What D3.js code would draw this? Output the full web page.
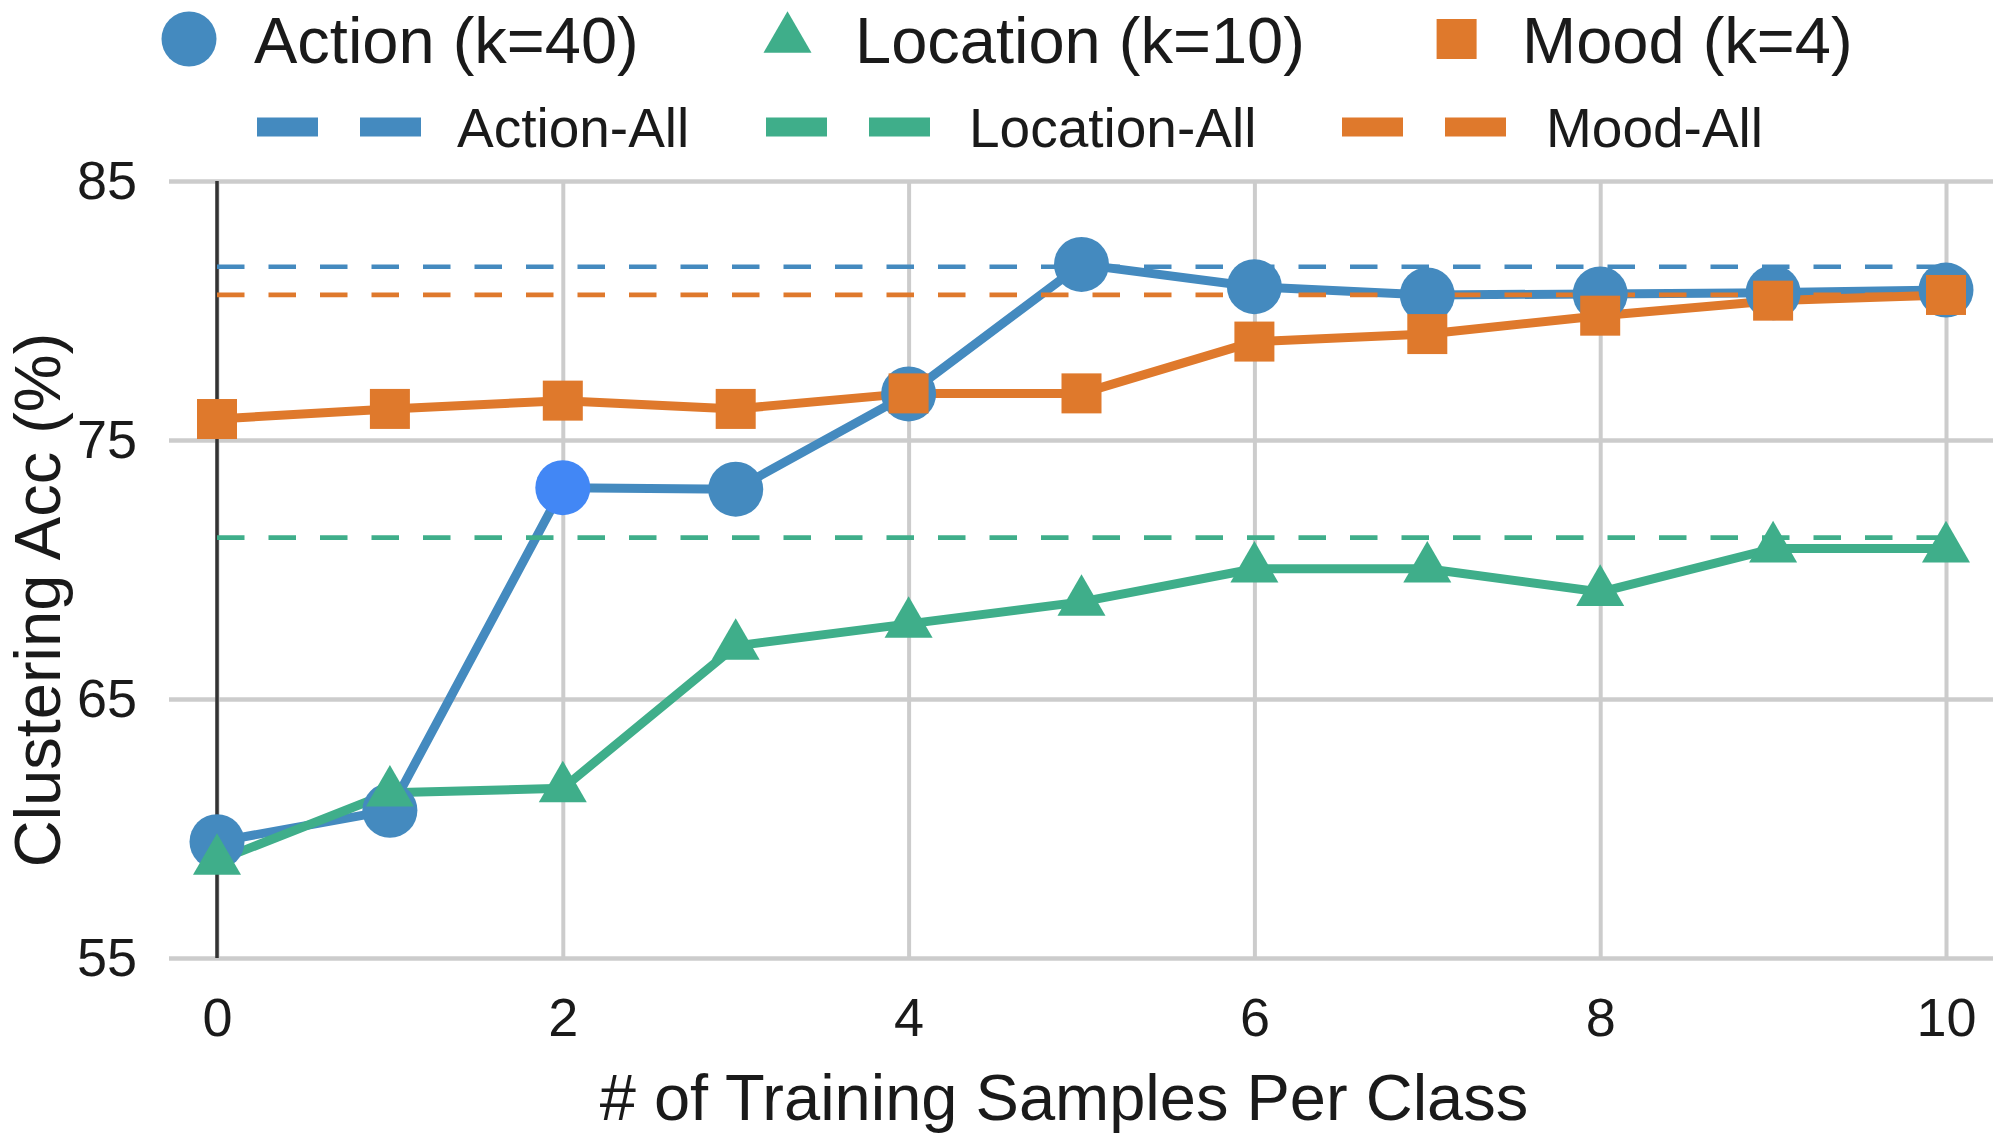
<!DOCTYPE html>
<html>
<head>
<meta charset="utf-8">
<script src="https://cdn.jsdelivr.net/npm/d3@7"></script>
<style>
  body { margin: 0; background: #fff; }
  text { font-family: "Liberation Sans", Arial, sans-serif; fill: #1a1a1a; }
</style>
</head>
<body>
<div id="chart"></div>
<script>
// data
var samples = [0, 1, 2, 3, 4, 5, 6, 7, 8, 9, 10];
var actionAcc   = [59.49, 60.7, 73.16, 73.1, 76.78, 81.78, 80.92, 80.6, 80.64, 80.69, 80.79];
var locationAcc = [58.75, 61.38, 61.55, 67.05, 67.9, 68.75, 70.03, 70.03, 69.13, 70.81, 70.81];
var moodAcc     = [75.81, 76.2, 76.52, 76.2, 76.8, 76.8, 78.8, 79.09, 79.8, 80.38, 80.6];
var allNames = ["Action-All", "Location-All", "Mood-All"];
var allAcc   = [81.69, 71.23, 80.6];
var xTicks = [0, 2, 4, 6, 8, 10];
var yTicks = [55, 65, 75, 85];
var highlightIdx = 2; // the brighter Action point

var blue = "#448abf", green = "#3fae8a", orange = "#df792c", highlight = "#4287f5";

// set the dimensions of the figure
var W = 2000, H = 1136;
var plot = {left: 169, right: 1993, top: 181, bottom: 958};

var svg = d3.select("#chart")
    .append("svg")
    .attr("width", W)
    .attr("height", H);

var x = d3.scaleLinear().domain([0, 10]).range([217, 1946]);
var y = d3.scaleLinear().domain([55, 85]).range([plot.bottom, plot.top]);

// horizontal grid + y tick labels
var yAxis = svg.append("g")
    .attr("transform", `translate(${plot.left},0)`)
    .call(d3.axisLeft(y).tickValues(yTicks).tickSize(-(plot.right - plot.left)).tickPadding(32));
yAxis.select(".domain").remove();
yAxis.selectAll("line").attr("stroke", "#cccccc").attr("stroke-width", 4.5);
yAxis.selectAll("text").style("font-size", "54px").attr("fill", "#1a1a1a");

// vertical grid + x tick labels
var xAxis = svg.append("g")
    .attr("transform", `translate(0,${plot.bottom})`)
    .call(d3.axisBottom(x).tickValues(xTicks).tickSize(-(plot.bottom - plot.top)).tickPadding(40));
xAxis.select(".domain").remove();
xAxis.selectAll("line").attr("stroke", "#cccccc").attr("stroke-width", 4);
xAxis.selectAll("text").style("font-size", "54px").attr("fill", "#1a1a1a");

// dark line at x = 0
svg.append("line")
    .attr("x1", x(0)).attr("x2", x(0))
    .attr("y1", plot.top).attr("y2", plot.bottom)
    .attr("stroke", "#333").attr("stroke-width", 3.5);

// axis titles
svg.append("text")
    .attr("x", 1064).attr("y", 1120)
    .attr("text-anchor", "middle")
    .style("font-size", "65px")
    .text("# of Training Samples Per Class");
svg.append("text")
    .attr("transform", "translate(60,600) rotate(-90)")
    .attr("text-anchor", "middle")
    .style("font-size", "65px")
    .text("Clustering Acc (%)");

var series = [
  {name: "Action (k=40)", values: actionAcc, color: blue, shape: "circle"},
  {name: "Location (k=10)", values: locationAcc, color: green, shape: "triangle"},
  {name: "Mood (k=4)", values: moodAcc, color: orange, shape: "square"}
];
var allColors = [blue, green, orange];

var line = d3.line()
    .x((d, i) => x(samples[i]))
    .y(d => y(d));

// series lines
series.forEach(function(s) {
  svg.append("path")
      .datum(s.values)
      .attr("d", line)
      .attr("fill", "none")
      .attr("stroke", s.color)
      .attr("stroke-width", 9)
      .attr("stroke-linejoin", "round");
});

// "-All" reference lines
svg.append("g")
    .selectAll("line")
    .data(allAcc)
    .join("line")
    .attr("x1", x(0)).attr("x2", x(10))
    .attr("y1", d => y(d)).attr("y2", d => y(d))
    .attr("stroke", (d, i) => allColors[i])
    .attr("stroke-width", 4.7)
    .attr("stroke-dasharray", "27.5,24");

// markers
function marker(sel, shape) {
  if (shape === "circle") return sel.append("circle").attr("r", 27.5);
  if (shape === "square") return sel.append("rect").attr("x", -20).attr("y", -20).attr("width", 40).attr("height", 40);
  return sel.append("path").attr("d", d3.symbol(d3.symbolTriangle, 998)());
}
series.forEach(function(s) {
  var g = svg.append("g").selectAll("g")
      .data(s.values)
      .join("g")
      .attr("transform", (d, i) => `translate(${x(samples[i])},${y(d)})`);
  marker(g, s.shape)
      .attr("fill", (d, i) => (s.shape === "circle" && i === highlightIdx) ? highlight : s.color);
});

// legend, first row: markers
var legend1 = [189, 787.5, 1456.6];
var legend1Text = [254, 855, 1522];
series.forEach(function(s, i) {
  var g = svg.append("g").attr("transform", `translate(${legend1[i]},39)`);
  marker(g, s.shape).attr("fill", s.color);
  svg.append("text").attr("x", legend1Text[i]).attr("y", 62.5)
      .style("font-size", "65px").text(s.name);
});

// legend, second row: dashes
var legend2 = [257, 766, 1342];
var legend2Text = [457, 969, 1546];
allNames.forEach(function(n, i) {
  [0, 103].forEach(function(off) {
    svg.append("rect")
        .attr("x", legend2[i] + off).attr("y", 117.5)
        .attr("width", 61).attr("height", 19)
        .attr("fill", allColors[i]);
  });
  svg.append("text").attr("x", legend2Text[i]).attr("y", 146.7)
      .style("font-size", "55px").text(n);
});
</script>
</body>
</html>
